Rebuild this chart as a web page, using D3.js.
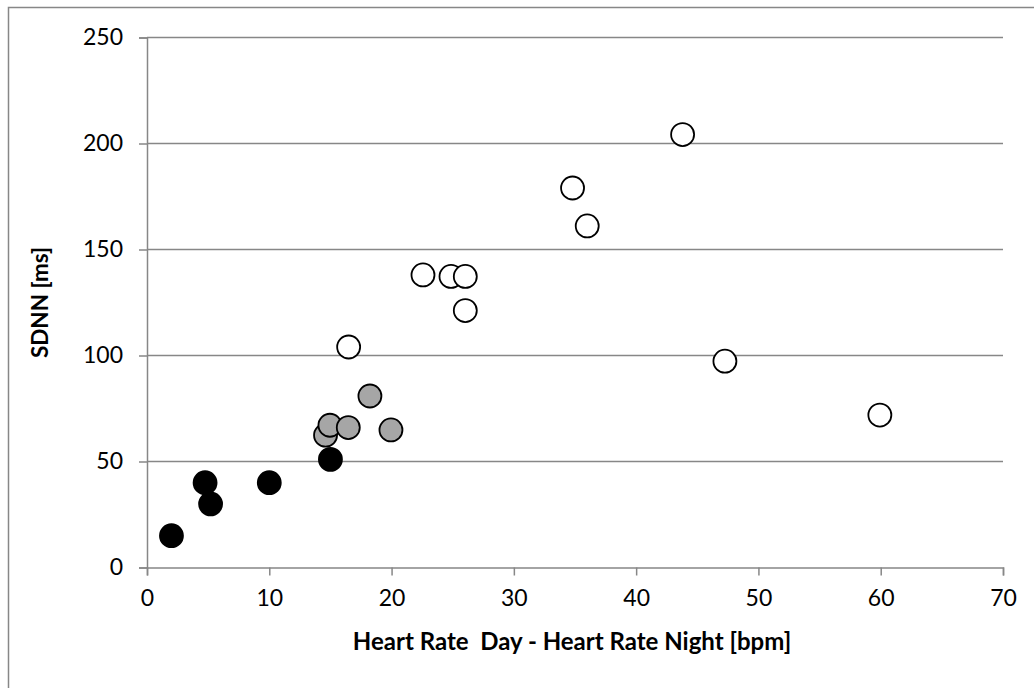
<!DOCTYPE html>
<html>
<head>
<meta charset="utf-8">
<script src="https://cdn.jsdelivr.net/npm/d3@7"></script>
<style>
  html, body { margin: 0; padding: 0; background: #fff; }
  svg { display: block; }
</style>
</head>
<body>
<svg id="chart" width="1034" height="688"></svg>
<script>
// Data (three groups)
const blackX = [2.0, 4.75, 5.2, 10.0, 15.0];
const blackY = [15, 40, 30, 40, 51];
const grayX = [14.6, 14.96, 16.46, 18.23, 19.95];
const grayY = [62.4, 67.1, 66, 80.9, 64.9];
const whiteX = [16.49, 22.57, 24.86, 26.03, 26.03, 34.8, 36.0, 43.8, 47.26, 59.93];
const whiteY = [104, 138, 137.3, 137.3, 121.2, 179, 161.1, 204.2, 97.3, 71.9];
const xTicks = [0, 10, 20, 30, 40, 50, 60, 70];
const yTicks = [0, 50, 100, 150, 200, 250];
const xTitle = "Heart Rate  Day - Heart Rate Night [bpm]";
const yTitle = "SDNN [ms]";

const svg = d3.select("#chart");
const font = "Lato, 'Open Sans', sans-serif";
const gridColor = "#878787";

// outer border
svg.append("rect").attr("x", 8.5).attr("y", 7.5).attr("width", 1100).attr("height", 760)
  .attr("fill", "none").attr("stroke", gridColor).attr("stroke-width", 1.5);

const x = d3.scaleLinear().domain([0, 70]).range([147, 1003]);
const y = d3.scaleLinear().domain([0, 250]).range([567.5, 37.5]);

// gridlines
svg.append("g").selectAll("line").data(yTicks.filter(d => d > 0)).join("line")
  .attr("x1", x(0)).attr("x2", x(70))
  .attr("y1", d => y(d)).attr("y2", d => y(d))
  .attr("stroke", gridColor).attr("stroke-width", 1.5);

// y axis
const yAxis = d3.axisLeft(y).tickValues(yTicks).tickSize(8).tickPadding(16).tickFormat(d3.format("d"));
const gy = svg.append("g").attr("transform", `translate(${x(0)},0)`).call(yAxis);
gy.select(".domain").attr("stroke", gridColor).attr("stroke-width", 1.5);
gy.selectAll(".tick line").attr("stroke", gridColor).attr("stroke-width", 1.5);
gy.selectAll(".tick text").attr("font-family", font).attr("font-size", 23).attr("fill", "#000");

// x axis
const xAxis = d3.axisBottom(x).tickValues(xTicks).tickSize(8).tickPadding(14).tickFormat(d3.format("d"));
const gx = svg.append("g").attr("transform", `translate(0,${y(0)})`).call(xAxis);
gx.select(".domain").attr("stroke", gridColor).attr("stroke-width", 1.5);
gx.selectAll(".tick line").attr("stroke", gridColor).attr("stroke-width", 1.5);
gx.selectAll(".tick text").attr("font-family", font).attr("font-size", 23).attr("fill", "#000");

// axis titles
svg.append("text").attr("x", 572).attr("y", 650).attr("text-anchor", "middle")
  .attr("font-family", font).attr("font-weight", "bold").attr("font-size", 24)
  .attr("fill", "#000").style("white-space", "pre").text(xTitle);
svg.append("text").attr("transform", `translate(48,${y(125)}) rotate(-90)`).attr("text-anchor", "middle")
  .attr("font-family", font).attr("font-weight", "bold").attr("font-size", 22.5)
  .attr("fill", "#000").text(yTitle);

// points
function drawSeries(xs, ys, fill) {
  svg.append("g").selectAll("circle").data(xs.map((v, i) => [v, ys[i]])).join("circle")
    .attr("cx", d => x(d[0])).attr("cy", d => y(d[1])).attr("r", 11.5)
    .attr("fill", fill).attr("stroke", "#000").attr("stroke-width", 1.8);
}
drawSeries(grayX, grayY, "#a6a6a6");
drawSeries(blackX, blackY, "#000");
drawSeries(whiteX, whiteY, "#fff");
</script>
</body>
</html>
